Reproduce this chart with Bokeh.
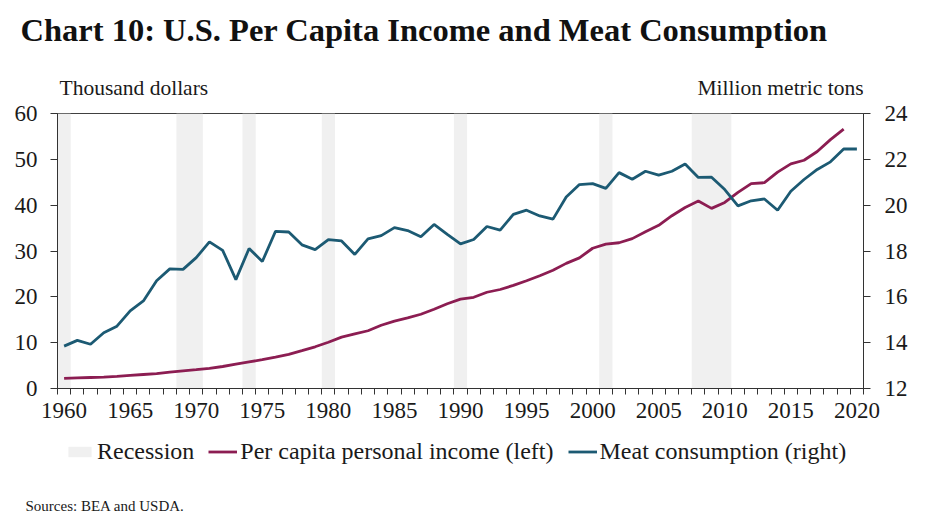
from bokeh.plotting import figure
from bokeh.layouts import column
from bokeh.models import (Range1d, LinearAxis, FixedTicker, Label, Legend, LegendItem,
                          ColumnDataSource, Title)
from bokeh.embed import file_html
from bokeh.resources import INLINE

# ---------------- data ----------------
years = list(range(1960, 2021))
income_years = list(range(1960, 2020))
income = [2.2, 2.3, 2.4, 2.5, 2.65, 2.85, 3.05, 3.25, 3.55, 3.85,
          4.1, 4.4, 4.8, 5.3, 5.8, 6.3, 6.85, 7.45, 8.25, 9.1,
          10.1, 11.2, 11.9, 12.6, 13.8, 14.7, 15.4, 16.2, 17.3, 18.5,
          19.5, 19.9, 21.0, 21.6, 22.5, 23.5, 24.6, 25.8, 27.3, 28.5,
          30.6, 31.5, 31.8, 32.7, 34.2, 35.6, 37.7, 39.5, 40.9, 39.3,
          40.6, 42.8, 44.7, 44.9, 47.2, 49.0, 49.8, 51.7, 54.3, 56.6]
meat = [13.85, 14.1, 13.93, 14.43, 14.72, 15.39, 15.82, 16.7, 17.22, 17.2,
        17.71, 18.4, 18.03, 16.75, 18.11, 17.54, 18.86, 18.83, 18.27, 18.06,
        18.5, 18.44, 17.85, 18.53, 18.67, 19.02, 18.89, 18.62, 19.16, 18.73,
        18.31, 18.5, 19.07, 18.91, 19.6, 19.78, 19.53, 19.39, 20.36, 20.9,
        20.94, 20.73, 21.42, 21.13, 21.48, 21.31, 21.48, 21.8, 21.21, 21.22,
        20.68, 19.97, 20.19, 20.27, 19.78, 20.61, 21.12, 21.56, 21.89, 22.45,
        22.45]
rec_start = [1960, 1969, 1974, 1980, 1990, 2001, 2008]
rec_end = [1960, 1970, 1974, 1980, 1990, 2001, 2010]
x_tick_years = list(range(1960, 2021, 5))
left_ticks = [0, 10, 20, 30, 40, 50, 60]
right_ticks = [12, 14, 16, 18, 20, 22, 24]

TITLE = "Chart 10: U.S. Per Capita Income and Meat Consumption"
LEFT_UNIT = "Thousand dollars"
RIGHT_UNIT = "Million metric tons"
SOURCE = "Sources: BEA and USDA."
LEG_REC = "Recession"
LEG_INC = "Per capita personal income (left)"
LEG_MEAT = "Meat consumption (right)"

PURPLE = "#8C1D52"
BLUE = "#1C5A73"
GREY = "#F0F0F0"
FONT = "Liberation Serif"
TXT = "#1a1a1a"
W = 925
TOP_H, MAIN_H, BOT_H = 98, 332, 93
BL, BR = 57, 62          # shared left/right borders -> frame x 57..863


def blank(h, top, bottom):
    f = figure(width=W, height=h, output_backend="svg", toolbar_location=None,
               title=None, x_axis_type=None, y_axis_type=None,
               x_range=Range1d(BL, W - BR), y_range=Range1d(h - bottom, top),
               min_border_left=BL, min_border_right=BR,
               min_border_top=top, min_border_bottom=bottom,
               outline_line_color=None, background_fill_color="white",
               border_fill_color="white")
    f.xgrid.visible = False
    f.ygrid.visible = False
    return f


# ---------------- header ----------------
HEAD_TOP = 52
top = blank(TOP_H, HEAD_TOP, 0)
top.add_layout(Title(text=TITLE, align="left", offset=-37, standoff=10,
                     vertical_align="bottom", text_font=FONT,
                     text_font_size="32.5px", text_font_style="bold",
                     text_color="#111111"), "above")
top.add_layout(Label(x=59, y=87, text=LEFT_UNIT, text_font=FONT,
                     text_font_size="21.5px", text_color=TXT,
                     text_baseline="alphabetic"))
top.add_layout(Label(x=863, y=87, text=RIGHT_UNIT, text_font=FONT,
                     text_font_size="21.5px", text_color=TXT,
                     text_baseline="alphabetic", text_align="right"))

# ---------------- main chart ----------------
p = figure(width=W, height=MAIN_H, output_backend="svg", toolbar_location=None,
           title=None, x_range=Range1d(1959.5, 2020.5), y_range=Range1d(0, 60),
           min_border_left=BL, min_border_right=BR, min_border_top=15,
           min_border_bottom=42, background_fill_color="white",
           border_fill_color="white", outline_line_color="#404040",
           outline_line_width=1)
p.xaxis.visible = False
p.yaxis.visible = False
p.xgrid.visible = False
p.ygrid.visible = False
p.extra_y_ranges = {"right": Range1d(12, 24)}

rec_src = ColumnDataSource(dict(left=[s - 0.5 for s in rec_start],
                                right=[e + 0.5 for e in rec_end],
                                bottom=[left_ticks[0]] * len(rec_start),
                                top=[left_ticks[-1]] * len(rec_start)))
p.quad(left="left", right="right", bottom="bottom", top="top",
       source=rec_src, fill_color=GREY, line_color=None)
p.line(income_years, income, line_color=PURPLE, line_width=2.8)
p.line(years, meat, line_color=BLUE, line_width=2.8, y_range_name="right")


def style_axis(ax):
    ax.axis_line_color = "#333333"
    ax.major_tick_line_color = "#333333"
    ax.minor_tick_line_color = "#333333"
    ax.major_label_text_font = FONT
    ax.major_label_text_font_size = "23px"
    ax.major_label_text_color = TXT


xb = LinearAxis(ticker=FixedTicker(ticks=x_tick_years,
                                   minor_ticks=[y - 0.5 for y in years] + [years[-1] + 0.5]))
style_axis(xb)
xb.major_tick_line_color = None
xb.minor_tick_in = 0
xb.minor_tick_out = 6
xb.major_label_standoff = 8
p.add_layout(xb, "below")

yl = LinearAxis(ticker=FixedTicker(ticks=left_ticks))
style_axis(yl)
yl.major_tick_in = 0
yl.major_tick_out = 7
yl.minor_tick_line_color = None
yl.major_label_standoff = 13
p.add_layout(yl, "left")

yr = LinearAxis(y_range_name="right", ticker=FixedTicker(ticks=right_ticks))
style_axis(yr)
yr.major_tick_in = 0
yr.major_tick_out = 7
yr.minor_tick_line_color = None
yr.major_label_standoff = 14
p.add_layout(yr, "right")

# ---------------- footer: legend + source ----------------
FOOT_BOTTOM = 28
bot = blank(BOT_H, 0, FOOT_BOTTOM)
# invisible proxies carrying the legend styles
k_rec = bot.quad(left=[s - 0.5 for s in rec_start], right=[e + 0.5 for e in rec_end],
                 bottom=[left_ticks[0]] * len(rec_start),
                 top=[left_ticks[-1]] * len(rec_start),
                 fill_color=GREY, line_color=None, visible=False)
k_inc = bot.line(x=income_years, y=income, line_color=PURPLE, line_width=2.8,
                 visible=False)
k_meat = bot.line(x=years, y=meat, line_color=BLUE, line_width=2.8, visible=False)
legend = Legend(items=[LegendItem(label=LEG_REC, renderers=[k_rec]),
                       LegendItem(label=LEG_INC, renderers=[k_inc]),
                       LegendItem(label=LEG_MEAT, renderers=[k_meat])],
                orientation="horizontal", location=(8, 30),
                label_text_font=FONT, label_text_font_size="24px",
                label_text_color=TXT, glyph_width=29, glyph_height=13,
                label_standoff=3, spacing=14, padding=4, margin=0,
                background_fill_alpha=0, border_line_color=None)
bot.add_layout(legend, "center")
bot.add_layout(Title(text=SOURCE, align="left", offset=-32, standoff=4,
                     vertical_align="top", text_font=FONT, text_font_size="15px",
                     text_font_style="normal", text_color=TXT), "below")

layout = column(top, p, bot, spacing=0)
open("out.html", "w").write(file_html(layout, INLINE))
